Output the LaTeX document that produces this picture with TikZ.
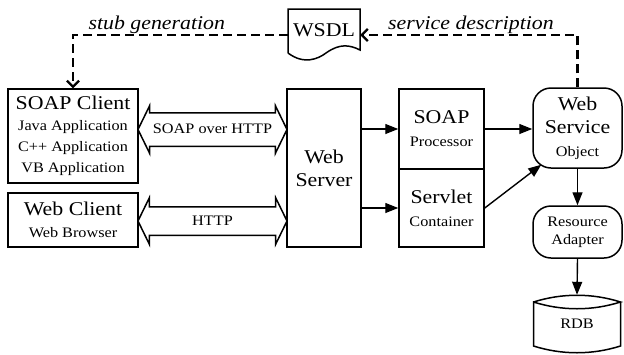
\documentclass[tikz,border=0pt]{standalone}
\usepackage{fontspec}
\setmainfont{Liberation Serif}[FakeStretch=1.12]
\usetikzlibrary{calc,arrows.meta,shapes.arrows}

\newcommand{\bigtxt}{\fontsize{19.5}{23}\selectfont}
\newcommand{\smalltxt}{\fontsize{14.5}{18}\selectfont}

\begin{document}
\begin{tikzpicture}[x=1pt,y=-1pt,
Box/.style={rectangle, draw, line width=1.5pt, inner sep=0pt, align=center, font=\bigtxt},
RBox/.style={Box, rounded corners=18pt},
Pipe/.style={double arrow, draw, line width=1.5pt, inner xsep=0pt, minimum height=149pt,
double arrow tip angle=128, text height=10pt, text depth=2pt, font=\smalltxt},
Flow/.style={line width=1.4pt, -{Triangle[length=13pt,width=10pt]}},
Ref/.style={line width=2.2pt, dash pattern=on 9pt off 5pt, -{Straight Barb[length=6pt,width=12pt]}},
]
	\useasboundingbox (0,0) rectangle (624,354);

	% clients
	\node[Box, minimum width=130pt, minimum height=94pt] (soapc) at (73,136)
	{SOAP Client\\[-2pt]{\smalltxt Java Application}\\[-2pt]{\smalltxt C++ Application}\\[-2pt]{\smalltxt VB Application}};
	\node[Box, minimum width=130pt, minimum height=54pt] (webc) at (73,220)
	{Web Client\\[-1pt]{\smalltxt Web Browser}};

	% server side
	\node[Box, minimum width=74pt, minimum height=158pt] (wsrv) at (324,168) {Web\\Server};
	\node[Box, minimum width=85pt, minimum height=80pt] (sproc) at (441.5,129)
	{SOAP\\{\smalltxt Processor}};
	\node[Box, minimum width=85pt, minimum height=78pt] (scont) at (441.5,208)
	{Servlet\\{\smalltxt Container}};
	\node[RBox, minimum width=89pt, minimum height=80pt] (wso) at (577.5,128)
	{Web\\Service\\{\smalltxt Object}};
	\node[RBox, minimum width=89pt, minimum height=52pt, font=\smalltxt] (radp) at (577.5,232)
	{Resource\\Adapter};

	% database
	\node[minimum width=87pt, minimum height=58pt, font=\smalltxt] (rdb) at (577,324) {RDB};
	\draw[line width=1.5pt, shift={(rdb.center)}]
	(-43.5,-22) .. controls (-15,-31) and (15,-31) .. (43.5,-22)
	.. controls (15,-13) and (-15,-13) .. (-43.5,-22)
	-- (-43.5,22) .. controls (-15,31) and (15,31) .. (43.5,22) -- (43.5,-22);

	% wsdl document
	\node[minimum width=72pt, minimum height=52pt, font=\bigtxt, text depth=10pt] (wsdl) at (324,35) {WSDL};
	\draw[line width=1.5pt, shift={(wsdl.center)}]
	(-36,18) -- (-36,-26) -- (36,-26) -- (36,15)
	.. controls (26,10) and (16,8) .. (2,18)
	.. controls (-6,24) and (-20,30) .. (-36,18);

	% protocols
	\node[Pipe, inner ysep=10pt, double arrow head extend=7pt] (sohttp) at (212.5,129.5) {SOAP over HTTP};
	\node[Pipe, inner ysep=7.5pt, double arrow head extend=9pt] (http) at (212.5,221) {HTTP};

	% flows
	\draw[Flow] (wsrv.east |- sproc) -- (sproc.west);
	\draw[Flow] (wsrv.east |- scont) -- (scont.west);
	\draw[Flow] (sproc.east) -- (wso.west |- sproc);
	\draw[Flow] (scont.east) -- ($(wso.south west)+(9,-4)$);
	\draw[Flow] (wso.south) -- (radp.north);
	\draw[Flow] (radp.south) -- (rdb.north);

	% description
	\draw[Ref] (wsdl.west) -| node[pos=0.305, above, inner sep=0.5pt, font=\bigtxt\itshape] {stub generation} (soapc.north);
	\draw[Ref] (wso.north) |- node[pos=0.745, above, inner sep=0.5pt, font=\bigtxt\itshape] {service description} (wsdl.east);
\end{tikzpicture}
\end{document}
